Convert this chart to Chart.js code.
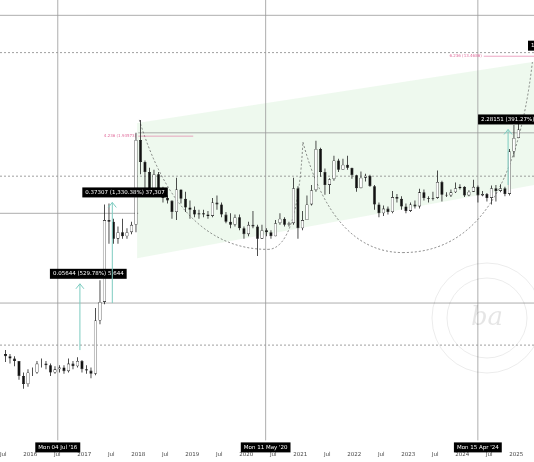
<!DOCTYPE html>
<html>
<head>
<meta charset="utf-8">
<script src="https://cdn.jsdelivr.net/npm/chart.js@4"></script>
<style>
  html, body { margin: 0; padding: 0; background: #fff; }
  #wrap { width: 534px; height: 462px; }
</style>
</head>
<body>
<div id="wrap"><canvas id="c"></canvas></div>
<script>
// monthly candles, Jul 2015 .. Jan 2025
const startYear = 2015.5;
const closes = [
  .009,.0085,.008,.0055,.0045,.006,
  .006,.0075,.0075,.0072,.006,.0065,.0068,.0062,.0075,.007,.008,.0065,
  .0063,.0058,.022,.035,.27,.26,.17,.2,.18,.2,.24,2.0,
  1.15,.9,.55,.85,.6,.47,.44,.33,.58,.46,.37,.35,
  .31,.32,.31,.3,.42,.40,.31,.26,.24,.29,.22,.19,
  .24,.23,.17,.21,.2,.18,.25,.28,.24,.25,.6,.22,
  .27,.4,.57,1.6,.9,.65,.75,1.2,.95,1.08,1.0,.83,
  .6,.78,.82,.63,.4,.32,.36,.33,.48,.46,.38,.34,
  .4,.38,.54,.47,.46,.47,.7,.51,.5,.54,.6,.62,
  .5,.55,.62,.5,.52,.47,.6,.56,.6,.52,1.5,2.1,
  2.6
];
const highs = [
  .0105,.0095,.009,.008,.006,.0065,
  .0068,.008,.0085,.008,.0075,.007,.0072,.0072,.0085,.008,.0088,.0082,
  .0072,.0068,.03,.06,.4,.41,.28,.23,.28,.22,.26,2.4,
  3.3,1.2,1.0,.95,.9,.62,.5,.44,.78,.58,.55,.44,
  .38,.35,.35,.34,.47,.50,.42,.33,.32,.31,.31,.23,
  .26,.34,.24,.24,.22,.21,.27,.32,.29,.26,.78,.63,
  .34,.5,.65,1.96,1.65,.98,.77,1.35,1.25,1.25,1.35,1.0,
  .84,.91,.86,.84,.65,.42,.39,.38,.56,.52,.49,.41,
  .42,.44,.59,.58,.49,.55,.93,.72,.54,.58,.69,.66,
  .63,.57,.74,.64,.56,.53,.64,.65,.66,.62,1.6,2.9,
  3.3
];
const lows = [
  .0078,.0075,.007,.005,.004,.0042,
  .0055,.0058,.0068,.0065,.0055,.0058,.006,.0058,.006,.0065,.0068,.006,
  .0058,.0052,.0056,.02,.033,.15,.15,.15,.17,.17,.19,.2,
  .85,.6,.5,.5,.55,.42,.41,.28,.27,.41,.33,.28,
  .29,.28,.29,.28,.29,.35,.29,.25,.22,.23,.21,.17,
  .18,.22,.11,.17,.18,.17,.18,.24,.23,.23,.24,.17,
  .21,.27,.39,.55,.8,.51,.52,.72,.9,.95,.95,.76,
  .55,.6,.71,.62,.35,.29,.3,.31,.32,.42,.35,.32,
  .33,.36,.36,.44,.42,.44,.46,.43,.48,.48,.53,.58,
  .48,.49,.55,.42,.49,.43,.4,.43,.54,.49,.5,1.3,
  2.1
];
const firstOpen = 0.0095;

// horizontal levels: [price, dashed, fromYear, toYear]
const hLevels = [
  [45, false, null, null], [17.7, true, null, null], [2.39, false, 2018.0, null],
  [0.81, true, null, null], [0.32, false, null, 2018.0], [0.034, false, null, null], [0.0119, true, null, null]
];
const vDates = [[2016.51, "Mon 04 Jul '16"], [2020.36, "Mon 11 May '20"], [2024.29, "Mon 15 Apr '24"]];
const moves = [
  [2016.92, 0.0105, 0.055, "0.05644 (529.78%) 5,644"],
  [2017.52, 0.034, 0.42, "0.37307 (1,330.38%) 37,307"],
  [2024.85, 0.65, 2.6, "2.28151 (391.27%) 225,..."]
];
const fibs = [[2018.0, 2.2, "4.236 (1.93573)"], [2024.4, 16.2, "6.236 (13.4686)"]];
const channel = { x0: 2017.98, x1: 2025.33, top0: 3.05, top1: 14.1, bot0: 0.104, bot1: 0.65 };
const arcs = [
  [[2018.02, 3.3], [2018.75, 0.13], [2020.4, 0.13]],
  [[2020.4, 0.13], [2020.95, 0.13], [2021.05, 1.9]],
  [[2021.05, 1.9], [2021.6, 0.12], [2022.9, 0.12]],
  [[2022.9, 0.12], [2024.9, 0.12], [2025.3, 14]]
];

const opens = closes.map((c, i) => i === 0 ? firstOpen : closes[i - 1]);
const xs = closes.map((c, i) => startYear + i / 12 + 1 / 24);
const wicks = xs.map((x, i) => ({ x, y: [lows[i], highs[i]] }));
const bodies = xs.map((x, i) => ({ x, y: [Math.min(opens[i], closes[i]), Math.max(opens[i], closes[i])] }));
const bodyColors = closes.map((c, i) => c >= opens[i] ? '#ffffff' : '#111111');

function box(ctx, x, y, text, align) {
  ctx.font = '5.5px "DejaVu Sans"';
  const w = ctx.measureText(text).width + 6;
  let bx = align === 'center' ? x - w / 2 : x;
  ctx.fillStyle = '#000';
  ctx.fillRect(bx, y - 5, w, 10);
  ctx.fillStyle = '#fff';
  ctx.textAlign = 'left';
  ctx.textBaseline = 'middle';
  ctx.fillText(text, bx + 3, y);
}

const overlay = {
  id: 'overlay',
  beforeDatasetsDraw(chart) {
    const { ctx, chartArea: a } = chart;
    const X = v => chart.scales.x.getPixelForValue(v);
    const Y = v => chart.scales.y.getPixelForValue(v);
    ctx.save();
    // channel
    ctx.fillStyle = 'rgba(205,238,205,0.35)';
    ctx.beginPath();
    ctx.moveTo(X(channel.x0), Y(channel.top0));
    ctx.lineTo(X(channel.x1), Y(channel.top1));
    ctx.lineTo(X(channel.x1), Y(channel.bot1));
    ctx.lineTo(X(channel.x0), Y(channel.bot0));
    ctx.closePath();
    ctx.fill();
    // horizontal levels
    ctx.lineWidth = 0.8;
    hLevels.forEach(([p, dashed, from, to]) => {
      ctx.strokeStyle = dashed ? '#888' : '#999';
      ctx.setLineDash(dashed ? [2, 2] : []);
      ctx.beginPath();
      ctx.moveTo(from ? X(from) : 0, Y(p));
      ctx.lineTo(to ? X(to) : chart.width, Y(p));
      ctx.stroke();
    });
    ctx.setLineDash([]);
    // verticals
    ctx.strokeStyle = '#999';
    vDates.forEach(([d]) => {
      ctx.beginPath(); ctx.moveTo(X(d), a.top); ctx.lineTo(X(d), a.bottom); ctx.stroke();
    });
    // arcs
    ctx.strokeStyle = '#555';
    ctx.setLineDash([2, 2]);
    ctx.lineWidth = 0.7;
    arcs.forEach(([p0, c, p1]) => {
      ctx.beginPath();
      ctx.moveTo(X(p0[0]), Y(p0[1]));
      ctx.quadraticCurveTo(X(c[0]), Y(c[1]), X(p1[0]), Y(p1[1]));
      ctx.stroke();
    });
    ctx.setLineDash([]);
    // fib levels
    ctx.strokeStyle = '#e06a9a';
    ctx.fillStyle = '#e06a9a';
    ctx.lineWidth = 0.6;
    ctx.font = '4px "DejaVu Sans"';
    ctx.textBaseline = 'middle';
    fibs.forEach(([x, p, t]) => {
      ctx.textAlign = 'right';
      ctx.fillText(t, X(x) - 2, Y(p));
      ctx.beginPath(); ctx.moveTo(X(x), Y(p)); ctx.lineTo(X(x) + 55, Y(p)); ctx.stroke();
    });
    // watermark
    ctx.strokeStyle = 'rgba(0,0,0,0.08)';
    ctx.lineWidth = 1;
    ctx.beginPath(); ctx.arc(487, 318, 55, 0, Math.PI * 2); ctx.stroke();
    ctx.beginPath(); ctx.arc(487, 318, 40, 0, Math.PI * 2); ctx.stroke();
    ctx.fillStyle = 'rgba(0,0,0,0.1)';
    ctx.font = 'italic 26px "DejaVu Serif"';
    ctx.textAlign = 'center';
    ctx.fillText('ba', 487, 318);
    ctx.restore();
  },
  afterDraw(chart) {
    const { ctx, chartArea: a } = chart;
    const X = v => chart.scales.x.getPixelForValue(v);
    const Y = v => chart.scales.y.getPixelForValue(v);
    ctx.save();
    ctx.strokeStyle = '#7ccbc0';
    ctx.lineWidth = 1;
    moves.forEach(([x, p0, p1, t]) => {
      const px = X(x), y0 = Y(p0), y1 = Y(p1);
      ctx.beginPath(); ctx.moveTo(px, y0); ctx.lineTo(px, y1);
      ctx.moveTo(px - 4, y1 + 5); ctx.lineTo(px, y1); ctx.lineTo(px + 4, y1 + 5);
      ctx.stroke();
      box(ctx, px - 30, y1 - 10, t, 'left');
    });
    box(ctx, 528, Y(17.7) - 7, '1', 'left');
    vDates.forEach(([d, t]) => box(ctx, X(d), a.bottom + 7, t, 'center'));
    ctx.restore();
  }
};

new Chart(document.getElementById('c'), {
  type: 'bar',
  data: {
    datasets: [
      { data: wicks, backgroundColor: '#222', maxBarThickness: 0.8, grouped: false, order: 2 },
      { data: bodies, backgroundColor: bodyColors, borderColor: '#111', borderWidth: 0.6,
        borderSkipped: false, barPercentage: 0.7, categoryPercentage: 1, grouped: false, order: 1 }
    ]
  },
  plugins: [overlay],
  options: {
    responsive: true,
    maintainAspectRatio: false,
    animation: false,
    layout: { padding: { left: 0, right: 0, top: 0, bottom: 1 } },
    plugins: { legend: { display: false }, tooltip: { enabled: false } },
    scales: {
      x: {
        type: 'linear',
        min: 2015.44,
        max: 2025.33,
        offset: false,
        grid: { display: false },
        border: { display: false },
        afterBuildTicks(axis) {
          const t = [];
          for (let v = 2015.5; v <= 2025.01; v += 0.5) t.push({ value: v });
          axis.ticks = t;
        },
        afterFit(axis) {
          axis.paddingLeft = 0;
          axis.paddingRight = 0;
        },
        ticks: {
          autoSkip: false,
          maxRotation: 0,
          padding: 3,
          color: '#444',
          font: { family: 'DejaVu Sans', size: 5.5 },
          callback: v => Number.isInteger(v) ? String(v) : 'Jul'
        }
      },
      y: {
        type: 'logarithmic',
        min: 0.0011,
        max: 66,
        display: false
      }
    }
  }
});
</script>
</body>
</html>
